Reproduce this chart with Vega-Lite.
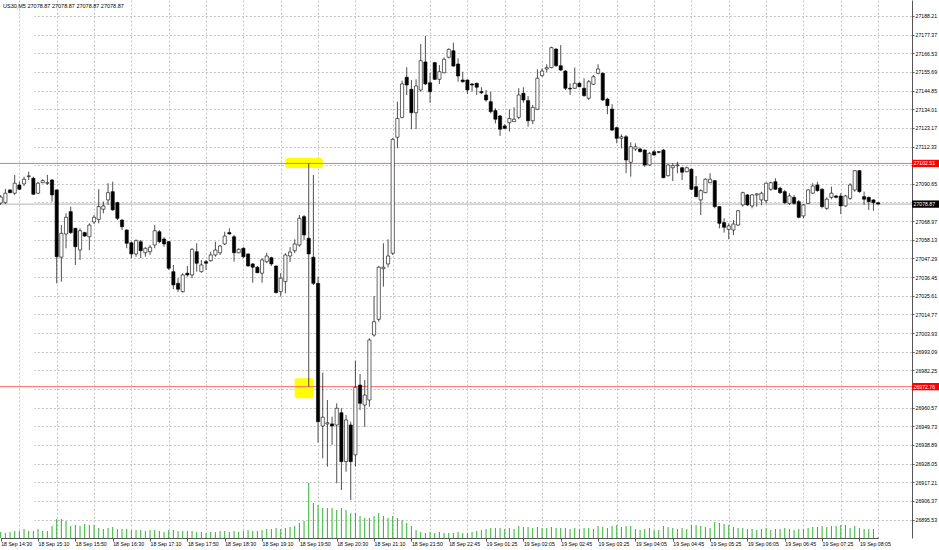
{
"$schema":"https://vega.github.io/schema/vega-lite/v6.json",
"width":912,"height":538,
"autosize":{"type":"none"},
"padding":{"left":0,"top":0,"right":27,"bottom":12},
"background":"white",
"config":{"view":{"stroke":null},"font":"Liberation Sans","axis":{"labelOverlap":false,"labelFontSize":5.2,"labelColor":"#000","title":null}},
"title":{"text":"US30,M5  27078.87 27078.87 27078.87 27078.87","anchor":"start","frame":"group","offset":-9,"fontSize":5.5,"fontWeight":"normal","color":"#000","dx":3},
"datasets":{
"bars":[
{"t":"18 Sep 14:30","o":27079.5,"h":27084.2,"l":27078.4,"c":27083.0,"v":60},
{"t":"18 Sep 14:35","o":27079.7,"h":27087.7,"l":27078.9,"c":27085.2,"v":50},
{"t":"18 Sep 14:40","o":27087.1,"h":27087.5,"l":27085.2,"c":27085.5,"v":60},
{"t":"18 Sep 14:45","o":27085.2,"h":27095.8,"l":27084.2,"c":27091.0,"v":70},
{"t":"18 Sep 14:50","o":27090.0,"h":27091.9,"l":27087.1,"c":27087.5,"v":70},
{"t":"18 Sep 14:55","o":27090.6,"h":27094.8,"l":27089.4,"c":27093.3,"v":90},
{"t":"18 Sep 15:00","o":27094.9,"h":27097.7,"l":27092.9,"c":27095.3,"v":70},
{"t":"18 Sep 15:05","o":27093.9,"h":27094.8,"l":27084.2,"c":27084.6,"v":70},
{"t":"18 Sep 15:10","o":27085.2,"h":27091.9,"l":27084.8,"c":27091.0,"v":90},
{"t":"18 Sep 15:15","o":27091.3,"h":27093.3,"l":27091.0,"c":27092.5,"v":70},
{"t":"18 Sep 15:20","o":27091.0,"h":27095.8,"l":27090.0,"c":27091.3,"v":70},
{"t":"18 Sep 15:25","o":27092.9,"h":27093.3,"l":27080.3,"c":27084.2,"v":120},
{"t":"18 Sep 15:30","o":27087.1,"h":27087.4,"l":27032.8,"c":27048.3,"v":190},
{"t":"18 Sep 15:35","o":27048.0,"h":27066.7,"l":27033.8,"c":27061.9,"v":190},
{"t":"18 Sep 15:40","o":27061.5,"h":27073.5,"l":27053.2,"c":27071.2,"v":170},
{"t":"18 Sep 15:45","o":27074.5,"h":27077.4,"l":27061.5,"c":27062.3,"v":120},
{"t":"18 Sep 15:50","o":27064.8,"h":27065.0,"l":27043.5,"c":27054.1,"v":130},
{"t":"18 Sep 15:55","o":27052.2,"h":27064.8,"l":27046.4,"c":27063.4,"v":120},
{"t":"18 Sep 16:00","o":27062.3,"h":27062.8,"l":27059.9,"c":27060.3,"v":140},
{"t":"18 Sep 16:05","o":27059.9,"h":27067.7,"l":27052.2,"c":27066.7,"v":130},
{"t":"18 Sep 16:10","o":27068.5,"h":27072.5,"l":27067.3,"c":27071.2,"v":130},
{"t":"18 Sep 16:15","o":27070.0,"h":27087.5,"l":27067.7,"c":27077.4,"v":100},
{"t":"18 Sep 16:20","o":27075.9,"h":27080.3,"l":27073.5,"c":27077.8,"v":90},
{"t":"18 Sep 16:25","o":27081.3,"h":27091.0,"l":27078.4,"c":27085.5,"v":100},
{"t":"18 Sep 16:30","o":27086.1,"h":27091.9,"l":27075.0,"c":27075.5,"v":110},
{"t":"18 Sep 16:35","o":27079.7,"h":27080.3,"l":27069.6,"c":27070.6,"v":90},
{"t":"18 Sep 16:40","o":27069.6,"h":27070.0,"l":27063.8,"c":27065.7,"v":90},
{"t":"18 Sep 16:45","o":27063.8,"h":27064.2,"l":27053.2,"c":27056.1,"v":90},
{"t":"18 Sep 16:50","o":27056.4,"h":27057.0,"l":27047.4,"c":27049.9,"v":80},
{"t":"18 Sep 16:55","o":27049.9,"h":27058.4,"l":27048.3,"c":27057.6,"v":80},
{"t":"18 Sep 17:00","o":27057.0,"h":27058.0,"l":27047.4,"c":27051.8,"v":80},
{"t":"18 Sep 17:05","o":27050.6,"h":27053.8,"l":27048.3,"c":27053.2,"v":70},
{"t":"18 Sep 17:10","o":27051.2,"h":27055.1,"l":27049.3,"c":27053.8,"v":80},
{"t":"18 Sep 17:15","o":27055.1,"h":27066.7,"l":27053.2,"c":27063.4,"v":80},
{"t":"18 Sep 17:20","o":27062.8,"h":27063.8,"l":27056.1,"c":27057.0,"v":70},
{"t":"18 Sep 17:25","o":27058.6,"h":27059.6,"l":27054.1,"c":27055.7,"v":60},
{"t":"18 Sep 17:30","o":27057.0,"h":27057.4,"l":27040.6,"c":27041.6,"v":80},
{"t":"18 Sep 17:35","o":27039.6,"h":27043.5,"l":27029.4,"c":27031.9,"v":80},
{"t":"18 Sep 17:40","o":27032.8,"h":27035.9,"l":27027.8,"c":27029.4,"v":70},
{"t":"18 Sep 17:45","o":27028.0,"h":27038.7,"l":27027.4,"c":27037.7,"v":70},
{"t":"18 Sep 17:50","o":27038.7,"h":27042.9,"l":27036.7,"c":27037.7,"v":70},
{"t":"18 Sep 17:55","o":27037.7,"h":27053.2,"l":27035.8,"c":27052.6,"v":70},
{"t":"18 Sep 18:00","o":27051.2,"h":27056.1,"l":27039.6,"c":27044.5,"v":60},
{"t":"18 Sep 18:05","o":27039.6,"h":27046.4,"l":27039.0,"c":27043.5,"v":60},
{"t":"18 Sep 18:10","o":27045.4,"h":27046.4,"l":27040.6,"c":27044.5,"v":50},
{"t":"18 Sep 18:15","o":27046.0,"h":27051.2,"l":27045.4,"c":27049.3,"v":60},
{"t":"18 Sep 18:20","o":27049.3,"h":27057.0,"l":27048.3,"c":27052.2,"v":60},
{"t":"18 Sep 18:25","o":27050.6,"h":27055.1,"l":27049.3,"c":27054.5,"v":70},
{"t":"18 Sep 18:30","o":27055.7,"h":27062.8,"l":27055.1,"c":27060.3,"v":70},
{"t":"18 Sep 18:35","o":27062.3,"h":27064.8,"l":27061.2,"c":27061.5,"v":60},
{"t":"18 Sep 18:40","o":27059.9,"h":27060.9,"l":27045.4,"c":27050.6,"v":70},
{"t":"18 Sep 18:45","o":27050.6,"h":27053.2,"l":27050.3,"c":27052.6,"v":60},
{"t":"18 Sep 18:50","o":27053.2,"h":27053.8,"l":27047.4,"c":27048.3,"v":70},
{"t":"18 Sep 18:55","o":27049.9,"h":27050.3,"l":27042.5,"c":27042.9,"v":80},
{"t":"18 Sep 19:00","o":27044.1,"h":27044.5,"l":27033.2,"c":27042.2,"v":70},
{"t":"18 Sep 19:05","o":27042.2,"h":27042.9,"l":27038.7,"c":27039.0,"v":70},
{"t":"18 Sep 19:10","o":27038.7,"h":27047.4,"l":27033.2,"c":27046.4,"v":80},
{"t":"18 Sep 19:15","o":27045.4,"h":27050.6,"l":27044.5,"c":27048.7,"v":90},
{"t":"18 Sep 19:20","o":27047.7,"h":27048.3,"l":27042.9,"c":27044.1,"v":90},
{"t":"18 Sep 19:25","o":27042.9,"h":27043.2,"l":27027.0,"c":27027.4,"v":100},
{"t":"18 Sep 19:30","o":27028.0,"h":27038.7,"l":27025.1,"c":27035.8,"v":90},
{"t":"18 Sep 19:35","o":27033.8,"h":27050.3,"l":27027.0,"c":27049.3,"v":100},
{"t":"18 Sep 19:40","o":27048.7,"h":27053.9,"l":27045.2,"c":27051.0,"v":110},
{"t":"18 Sep 19:45","o":27051.8,"h":27058.4,"l":27050.3,"c":27055.7,"v":120},
{"t":"18 Sep 19:50","o":27055.1,"h":27072.5,"l":27054.1,"c":27070.6,"v":150},
{"t":"18 Sep 19:55","o":27071.6,"h":27072.5,"l":27058.0,"c":27060.9,"v":170},
{"t":"18 Sep 20:00","o":27059.0,"h":27102.51,"l":26972.76,"c":27049.9,"v":550},
{"t":"18 Sep 20:05","o":27048.0,"h":27095.8,"l":27031.9,"c":27032.8,"v":350},
{"t":"18 Sep 20:10","o":27032.8,"h":27036.7,"l":26940.2,"c":26952.4,"v":330},
{"t":"18 Sep 20:15","o":26949.9,"h":26980.9,"l":26931.1,"c":26955.0,"v":300},
{"t":"18 Sep 20:20","o":26951.1,"h":26965.0,"l":26926.3,"c":26951.8,"v":300},
{"t":"18 Sep 20:25","o":26951.1,"h":26955.3,"l":26938.9,"c":26949.9,"v":300},
{"t":"18 Sep 20:30","o":26950.5,"h":26963.1,"l":26916.6,"c":26960.2,"v":280},
{"t":"18 Sep 20:35","o":26957.6,"h":26960.2,"l":26912.7,"c":26929.2,"v":300},
{"t":"18 Sep 20:40","o":26929.2,"h":26956.3,"l":26923.3,"c":26953.4,"v":280},
{"t":"18 Sep 20:45","o":26950.5,"h":26952.4,"l":26906.9,"c":26929.2,"v":250},
{"t":"18 Sep 20:50","o":26933.1,"h":26987.9,"l":26926.3,"c":26972.4,"v":250},
{"t":"18 Sep 20:55","o":26973.7,"h":26980.1,"l":26959.2,"c":26963.1,"v":220},
{"t":"18 Sep 21:00","o":26962.1,"h":26976.6,"l":26949.4,"c":26967.9,"v":200},
{"t":"18 Sep 21:05","o":26965.0,"h":27000.9,"l":26961.1,"c":26999.9,"v":200},
{"t":"18 Sep 21:10","o":27002.8,"h":27025.5,"l":27001.8,"c":27010.5,"v":220},
{"t":"18 Sep 21:15","o":27011.9,"h":27042.9,"l":27010.5,"c":27042.2,"v":250},
{"t":"18 Sep 21:20","o":27041.3,"h":27056.1,"l":27030.9,"c":27042.2,"v":220},
{"t":"18 Sep 21:25","o":27044.1,"h":27058.4,"l":27042.2,"c":27048.7,"v":200},
{"t":"18 Sep 21:30","o":27050.3,"h":27117.3,"l":27049.3,"c":27116.5,"v":220},
{"t":"18 Sep 21:35","o":27117.7,"h":27138.4,"l":27111.3,"c":27128.7,"v":200},
{"t":"18 Sep 21:40","o":27129.3,"h":27150.6,"l":27128.7,"c":27148.7,"v":180},
{"t":"18 Sep 21:45","o":27152.6,"h":27158.4,"l":27142.3,"c":27148.1,"v":150},
{"t":"18 Sep 21:50","o":27145.6,"h":27151.0,"l":27122.4,"c":27132.0,"v":120},
{"t":"18 Sep 21:55","o":27132.0,"h":27151.4,"l":27122.4,"c":27147.5,"v":80},
{"t":"18 Sep 22:00","o":27145.2,"h":27171.9,"l":27144.2,"c":27162.2,"v":60},
{"t":"18 Sep 22:05","o":27161.5,"h":27176.6,"l":27148.1,"c":27148.7,"v":50},
{"t":"18 Sep 22:10","o":27149.4,"h":27155.2,"l":27137.8,"c":27144.2,"v":60},
{"t":"18 Sep 22:30","o":27161.1,"h":27161.6,"l":27151.0,"c":27151.4,"v":50},
{"t":"18 Sep 22:35","o":27151.4,"h":27159.7,"l":27148.7,"c":27155.8,"v":60},
{"t":"18 Sep 22:40","o":27155.2,"h":27164.2,"l":27154.9,"c":27163.0,"v":50},
{"t":"18 Sep 22:45","o":27164.2,"h":27169.4,"l":27163.6,"c":27168.8,"v":50},
{"t":"18 Sep 22:50","o":27168.0,"h":27172.7,"l":27158.7,"c":27159.1,"v":50},
{"t":"18 Sep 22:55","o":27160.3,"h":27163.6,"l":27150.0,"c":27153.3,"v":60},
{"t":"19 Sep 01:00","o":27151.0,"h":27155.8,"l":27149.4,"c":27150.0,"v":50},
{"t":"19 Sep 01:05","o":27151.0,"h":27151.4,"l":27142.9,"c":27145.2,"v":50},
{"t":"19 Sep 01:10","o":27148.7,"h":27149.1,"l":27144.2,"c":27148.1,"v":60},
{"t":"19 Sep 01:15","o":27149.1,"h":27149.4,"l":27142.3,"c":27146.8,"v":70},
{"t":"19 Sep 01:20","o":27144.2,"h":27146.8,"l":27142.9,"c":27143.6,"v":80},
{"t":"19 Sep 01:25","o":27142.3,"h":27145.2,"l":27138.4,"c":27139.4,"v":90},
{"t":"19 Sep 01:30","o":27138.4,"h":27144.2,"l":27131.6,"c":27132.6,"v":100},
{"t":"19 Sep 01:35","o":27133.2,"h":27134.6,"l":27125.8,"c":27128.2,"v":100},
{"t":"19 Sep 01:40","o":27130.1,"h":27130.7,"l":27118.5,"c":27122.4,"v":100},
{"t":"19 Sep 01:45","o":27124.3,"h":27125.4,"l":27122.4,"c":27122.9,"v":90},
{"t":"19 Sep 01:50","o":27126.2,"h":27134.0,"l":27121.0,"c":27128.7,"v":100},
{"t":"19 Sep 01:55","o":27126.8,"h":27135.1,"l":27126.6,"c":27128.2,"v":90},
{"t":"19 Sep 02:00","o":27129.3,"h":27146.2,"l":27128.2,"c":27142.3,"v":120},
{"t":"19 Sep 02:05","o":27143.3,"h":27146.8,"l":27137.8,"c":27139.4,"v":110},
{"t":"19 Sep 02:10","o":27139.0,"h":27141.7,"l":27123.9,"c":27127.3,"v":110},
{"t":"19 Sep 02:15","o":27127.3,"h":27136.5,"l":27125.4,"c":27135.1,"v":100},
{"t":"19 Sep 02:20","o":27134.0,"h":27157.2,"l":27133.6,"c":27152.0,"v":110},
{"t":"19 Sep 02:25","o":27153.5,"h":27157.8,"l":27152.9,"c":27156.2,"v":100},
{"t":"19 Sep 02:30","o":27157.4,"h":27160.1,"l":27155.5,"c":27158.2,"v":100},
{"t":"19 Sep 02:35","o":27158.2,"h":27170.4,"l":27157.8,"c":27169.8,"v":110},
{"t":"19 Sep 02:40","o":27169.0,"h":27169.4,"l":27158.7,"c":27159.3,"v":100},
{"t":"19 Sep 02:45","o":27159.3,"h":27171.3,"l":27156.2,"c":27156.8,"v":100},
{"t":"19 Sep 02:50","o":27156.2,"h":27156.8,"l":27145.2,"c":27146.2,"v":100},
{"t":"19 Sep 02:55","o":27146.2,"h":27149.1,"l":27142.3,"c":27145.8,"v":90},
{"t":"19 Sep 03:00","o":27146.2,"h":27158.2,"l":27145.8,"c":27149.1,"v":100},
{"t":"19 Sep 03:05","o":27149.1,"h":27149.7,"l":27146.8,"c":27147.1,"v":90},
{"t":"19 Sep 03:10","o":27146.2,"h":27152.0,"l":27141.3,"c":27141.9,"v":100},
{"t":"19 Sep 03:15","o":27140.4,"h":27151.0,"l":27139.4,"c":27150.0,"v":100},
{"t":"19 Sep 03:20","o":27148.5,"h":27153.9,"l":27148.1,"c":27152.9,"v":90},
{"t":"19 Sep 03:25","o":27154.9,"h":27160.1,"l":27154.3,"c":27157.4,"v":120},
{"t":"19 Sep 03:30","o":27154.9,"h":27155.5,"l":27138.8,"c":27139.4,"v":110},
{"t":"19 Sep 03:35","o":27139.9,"h":27140.7,"l":27131.1,"c":27136.1,"v":100},
{"t":"19 Sep 03:40","o":27134.1,"h":27136.9,"l":27121.4,"c":27121.9,"v":120},
{"t":"19 Sep 03:45","o":27123.3,"h":27123.9,"l":27114.2,"c":27117.1,"v":130},
{"t":"19 Sep 03:50","o":27117.1,"h":27119.4,"l":27111.3,"c":27118.0,"v":110},
{"t":"19 Sep 03:55","o":27118.0,"h":27119.0,"l":27096.8,"c":27104.5,"v":120},
{"t":"19 Sep 04:00","o":27103.2,"h":27114.8,"l":27094.8,"c":27112.2,"v":120},
{"t":"19 Sep 04:05","o":27110.9,"h":27114.2,"l":27109.7,"c":27112.2,"v":90},
{"t":"19 Sep 04:10","o":27110.9,"h":27111.7,"l":27109.0,"c":27109.3,"v":80},
{"t":"19 Sep 04:15","o":27110.3,"h":27110.6,"l":27100.6,"c":27101.6,"v":90},
{"t":"19 Sep 04:20","o":27101.6,"h":27109.0,"l":27101.2,"c":27108.4,"v":100},
{"t":"19 Sep 04:25","o":27109.3,"h":27110.3,"l":27107.0,"c":27107.4,"v":80},
{"t":"19 Sep 04:30","o":27109.3,"h":27109.7,"l":27108.4,"c":27109.0,"v":80},
{"t":"19 Sep 04:35","o":27110.3,"h":27110.9,"l":27093.9,"c":27094.2,"v":120},
{"t":"19 Sep 04:40","o":27095.4,"h":27102.0,"l":27094.8,"c":27101.6,"v":110},
{"t":"19 Sep 04:45","o":27100.0,"h":27102.6,"l":27092.3,"c":27101.2,"v":100},
{"t":"19 Sep 04:50","o":27101.2,"h":27103.5,"l":27096.8,"c":27101.6,"v":90},
{"t":"19 Sep 04:55","o":27100.0,"h":27100.6,"l":27092.9,"c":27097.4,"v":100},
{"t":"19 Sep 05:00","o":27097.7,"h":27100.6,"l":27097.4,"c":27100.0,"v":90},
{"t":"19 Sep 05:05","o":27099.1,"h":27099.7,"l":27087.1,"c":27087.5,"v":130},
{"t":"19 Sep 05:10","o":27089.0,"h":27095.2,"l":27082.8,"c":27083.2,"v":130},
{"t":"19 Sep 05:15","o":27081.3,"h":27087.5,"l":27072.5,"c":27086.7,"v":120},
{"t":"19 Sep 05:20","o":27085.5,"h":27093.9,"l":27085.2,"c":27093.3,"v":110},
{"t":"19 Sep 05:25","o":27091.3,"h":27096.8,"l":27091.0,"c":27093.3,"v":100},
{"t":"19 Sep 05:30","o":27092.5,"h":27092.9,"l":27076.4,"c":27077.4,"v":160},
{"t":"19 Sep 05:35","o":27077.4,"h":27077.8,"l":27064.8,"c":27067.7,"v":150},
{"t":"19 Sep 05:40","o":27068.1,"h":27070.6,"l":27062.3,"c":27065.4,"v":140},
{"t":"19 Sep 05:45","o":27064.2,"h":27067.7,"l":27058.4,"c":27066.2,"v":130},
{"t":"19 Sep 05:50","o":27063.8,"h":27069.6,"l":27060.9,"c":27067.3,"v":110},
{"t":"19 Sep 05:55","o":27066.7,"h":27075.5,"l":27066.2,"c":27075.0,"v":100},
{"t":"19 Sep 06:00","o":27078.4,"h":27086.1,"l":27077.4,"c":27085.5,"v":100},
{"t":"19 Sep 06:05","o":27084.2,"h":27084.8,"l":27077.8,"c":27078.4,"v":90},
{"t":"19 Sep 06:10","o":27077.8,"h":27084.8,"l":27076.4,"c":27084.2,"v":90},
{"t":"19 Sep 06:15","o":27084.2,"h":27085.2,"l":27077.4,"c":27084.8,"v":80},
{"t":"19 Sep 06:20","o":27081.3,"h":27086.1,"l":27078.4,"c":27085.2,"v":90},
{"t":"19 Sep 06:25","o":27080.9,"h":27091.3,"l":27079.3,"c":27091.0,"v":100},
{"t":"19 Sep 06:30","o":27087.5,"h":27091.9,"l":27086.7,"c":27091.3,"v":80},
{"t":"19 Sep 06:35","o":27091.9,"h":27093.9,"l":27087.1,"c":27087.5,"v":90},
{"t":"19 Sep 06:40","o":27088.1,"h":27089.0,"l":27084.8,"c":27085.5,"v":90},
{"t":"19 Sep 06:45","o":27086.1,"h":27087.1,"l":27078.9,"c":27079.7,"v":100},
{"t":"19 Sep 06:50","o":27079.3,"h":27085.2,"l":27078.4,"c":27083.6,"v":90},
{"t":"19 Sep 06:55","o":27082.8,"h":27084.2,"l":27078.4,"c":27079.3,"v":80},
{"t":"19 Sep 07:00","o":27080.3,"h":27081.3,"l":27070.6,"c":27071.2,"v":90},
{"t":"19 Sep 07:05","o":27072.0,"h":27078.9,"l":27070.6,"c":27078.4,"v":90},
{"t":"19 Sep 07:10","o":27079.3,"h":27087.5,"l":27078.9,"c":27087.1,"v":100},
{"t":"19 Sep 07:15","o":27085.2,"h":27091.0,"l":27084.8,"c":27089.4,"v":110},
{"t":"19 Sep 07:20","o":27090.0,"h":27091.9,"l":27086.1,"c":27086.7,"v":110},
{"t":"19 Sep 07:25","o":27087.5,"h":27088.1,"l":27076.4,"c":27077.4,"v":120},
{"t":"19 Sep 07:30","o":27076.4,"h":27082.8,"l":27075.5,"c":27081.7,"v":110},
{"t":"19 Sep 07:35","o":27082.8,"h":27089.0,"l":27081.7,"c":27085.2,"v":120},
{"t":"19 Sep 07:40","o":27083.6,"h":27084.2,"l":27082.2,"c":27082.8,"v":120},
{"t":"19 Sep 07:45","o":27083.6,"h":27085.2,"l":27073.1,"c":27077.8,"v":130},
{"t":"19 Sep 07:50","o":27077.8,"h":27084.2,"l":27077.4,"c":27083.6,"v":130},
{"t":"19 Sep 07:55","o":27082.2,"h":27091.0,"l":27081.3,"c":27090.0,"v":100},
{"t":"19 Sep 08:00","o":27087.1,"h":27098.7,"l":27086.1,"c":27098.3,"v":120},
{"t":"19 Sep 08:05","o":27098.3,"h":27098.7,"l":27085.5,"c":27086.1,"v":100},
{"t":"19 Sep 08:10","o":27083.2,"h":27086.1,"l":27078.4,"c":27081.7,"v":90},
{"t":"19 Sep 08:15","o":27082.8,"h":27083.2,"l":27075.5,"c":27080.3,"v":90},
{"t":"19 Sep 08:20","o":27081.3,"h":27081.7,"l":27075.0,"c":27079.7,"v":90},
{"t":"19 Sep 08:25","o":27079.7,"h":27079.9,"l":27078.6,"c":27078.87,"v":10}
],
"levels":[
{"price":27102.51,"kind":"level"},
{"price":26972.76,"kind":"level"},
{"price":27078.87,"kind":"bid"}
],
"boxes":[
{"t1":"18 Sep 19:35","t2":"18 Sep 20:15","p1":27105.7,"p2":27099.9},
{"t1":"18 Sep 19:45","t2":"18 Sep 20:05","p1":26977.6,"p2":26966.0}
]
},
"layer":[
{
"data":{"name":"bars"},
"mark":{"type":"rule","color":"#2db22d","strokeWidth":1},
"encoding":{
"x":{"field":"t","type":"ordinal","title":null,"scale":{"type":"point","range":[0.7,878.1],"padding":0},
"axis":{"orient":"bottom","values":["18 Sep 14:50","18 Sep 15:30","18 Sep 16:10","18 Sep 16:50","18 Sep 17:30","18 Sep 18:10","18 Sep 18:50","18 Sep 19:30","18 Sep 20:10","18 Sep 20:50","18 Sep 21:30","18 Sep 22:10","19 Sep 01:05","19 Sep 01:45","19 Sep 02:25","19 Sep 03:05","19 Sep 03:45","19 Sep 04:25","19 Sep 05:05","19 Sep 05:45","19 Sep 06:25","19 Sep 07:05","19 Sep 07:45","19 Sep 08:25"],"labels":false,"ticks":false,"domain":false,"grid":true,"gridColor":"#c4c4c4","gridDash":[2,2],"gridWidth":1,"title":null}},
"y":{"field":"v","type":"quantitative","title":null,"scale":{"domain":[0,5380],"nice":false,"zero":true},"axis":null},
"y2":{"datum":0}
}
},
{
"layer":[
{
"data":{"name":"boxes"},
"mark":{"type":"rect","color":"#ffff00","cornerRadius":2},
"encoding":{
"x":{"field":"t1","type":"ordinal","title":null},
"x2":{"field":"t2"},
"y":{"field":"p1","type":"quantitative","title":null},
"y2":{"field":"p2"}
}
},
{
"data":{"name":"levels"},
"mark":{"type":"rule","strokeWidth":1},
"encoding":{
"y":{"field":"price","type":"quantitative","title":null},
"color":{"condition":{"test":"datum.kind == 'bid'","value":"#b4b4b4"},"value":"#ff6868"}
}
},
{
"data":{"name":"bars"},
"mark":{"type":"rule","color":"#222","strokeWidth":0.8},
"encoding":{
"x":{"field":"t","type":"ordinal","title":null},
"y":{"field":"h","type":"quantitative","title":null},
"y2":{"field":"l"}
}
},
{
"data":{"name":"bars"},
"mark":{"type":"bar","width":3.2,"stroke":"#000","strokeWidth":0.6},
"encoding":{
"x":{"field":"t","type":"ordinal","title":null,"scale":{"type":"point","range":[0.7,878.1],"padding":0},
"axis":{"orient":"bottom","values":["18 Sep 14:30","18 Sep 15:10","18 Sep 15:50","18 Sep 16:30","18 Sep 17:10","18 Sep 17:50","18 Sep 18:30","18 Sep 19:10","18 Sep 19:50","18 Sep 20:30","18 Sep 21:10","18 Sep 21:50","18 Sep 22:45","19 Sep 01:25","19 Sep 02:05","19 Sep 02:45","19 Sep 03:25","19 Sep 04:05","19 Sep 04:45","19 Sep 05:25","19 Sep 06:05","19 Sep 06:45","19 Sep 07:25","19 Sep 08:05"],"grid":false,"labelAngle":0,"labelAlign":"left","labelDx":1,"labelPadding":2,"labelFontSize":5.2,"labelColor":"#000","labelOverlap":false,"tickSize":3,"tickColor":"#555","domainColor":"#555","title":null}},
"y":{"field":"o","type":"quantitative","title":null,"scale":{"domain":[26884.8,27197.5],"nice":false,"zero":false},
"axis":{"orient":"right","tickCount":100,"values":[27188.21,27177.37,27166.53,27155.69,27144.85,27134.01,27123.17,27112.33,27101.49,27090.65,27079.81,27068.97,27058.13,27047.29,27036.45,27025.61,27014.77,27003.93,26993.09,26982.25,26971.41,26960.57,26949.73,26938.89,26928.05,26917.21,26906.37,26895.53],"format":".2f","labelExpr":"(datum.value == 27101.49 || datum.value == 27079.81 || datum.value == 26971.41) ? '' : datum.label","grid":true,"gridColor":"#c4c4c4","gridDash":[2,2],"tickSize":2,"tickColor":"#555","domainColor":"#555","labelFontSize":5.2,"labelPadding":1,"labelColor":"#000","labelOverlap":false,"labelBound":false,"labelFlush":false,"title":null}},
"y2":{"field":"c"},
"fill":{"condition":{"test":"datum.c >= datum.o","value":"#ffffff"},"value":"#000000"}
}
}
]
},
{
"data":{"name":"levels"},
"layer":[
{
"mark":{"type":"point","shape":"M0,-0.27H2V0.27H0Z","size":729,"filled":true,"opacity":1,"strokeWidth":0},
"encoding":{
"x":{"datum":1,"type":"quantitative","scale":{"domain":[0,1]},"axis":null},
"y":{"field":"price","type":"quantitative","title":null,"scale":{"domain":[26884.8,27197.5],"nice":false,"zero":false},"axis":null},
"fill":{"condition":{"test":"datum.kind == 'bid'","value":"#000000"},"value":"#ff0000"}
}
},
{
"mark":{"type":"text","align":"left","baseline":"middle","dx":1.5,"fontSize":5.2,"color":"#ffffff"},
"encoding":{
"x":{"datum":1,"type":"quantitative","scale":{"domain":[0,1]},"axis":null},
"y":{"field":"price","type":"quantitative","title":null,"scale":{"domain":[26884.8,27197.5],"nice":false,"zero":false},"axis":null},
"text":{"field":"price","type":"quantitative","format":".2f"}
}
}
]
}
],
"resolve":{"scale":{"x":"independent","y":"independent"}}
}
